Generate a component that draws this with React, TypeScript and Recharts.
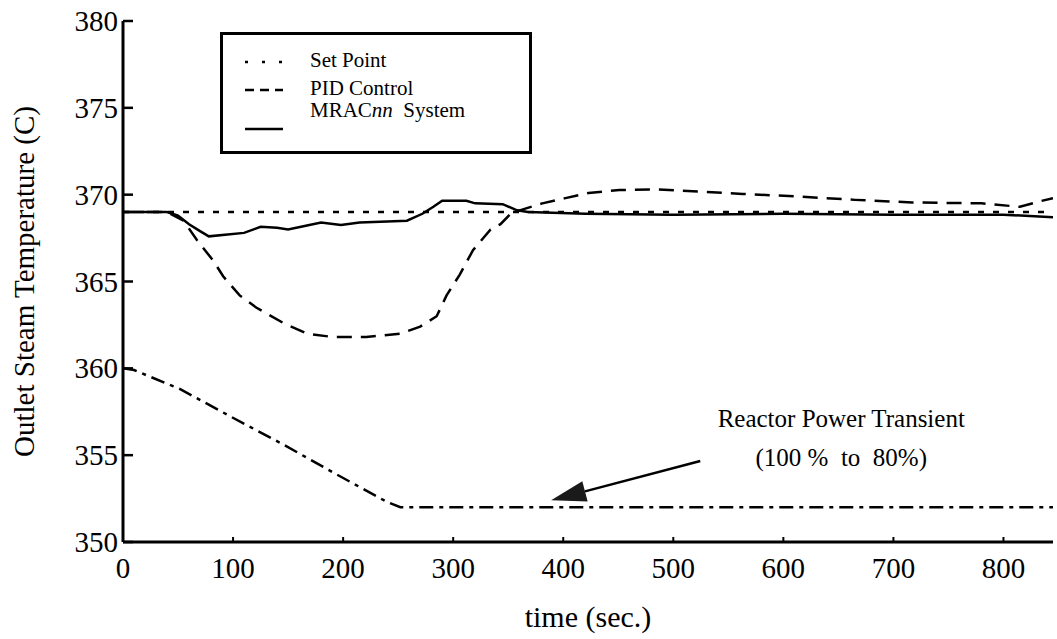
import React from 'react';
import { LineChart, Line, XAxis, YAxis, ReferenceLine, Legend } from 'recharts';

// readings taken off the original figure
const setPointTime = [0, 845];
const setPointTemp = [369, 369];

const pidTime = [
  0, 40, 55, 67, 82, 91, 106, 121, 146, 167, 191, 221, 252, 270, 285, 294, 306, 318, 334, 343,
  353, 381, 402, 423, 451, 486, 524, 563, 612, 665, 717, 780, 815, 832, 845,
];
const pidTemp = [
  369, 369, 368.5, 367.4, 366.2, 365.3, 364.2, 363.5, 362.6, 362.0, 361.8, 361.8, 362.0, 362.4, 363.0,
  364.2, 365.4, 366.8, 368.0, 368.3, 368.95, 369.5, 369.8, 370.1, 370.27, 370.3, 370.18, 370.04, 369.9,
  369.7, 369.55, 369.5, 369.3, 369.6, 369.8,
];

const mracTime = [
  0, 40, 50, 60, 70, 78, 95, 110, 125, 140, 150, 165, 180, 198, 215, 240, 258, 272, 282, 290, 312,
  320, 345, 358, 368, 420, 500, 600, 700, 800, 845,
];
const mracTemp = [
  369, 369, 368.8, 368.3, 367.9, 367.6, 367.7, 367.8, 368.15, 368.1, 368.0, 368.2, 368.4, 368.25,
  368.4, 368.45, 368.5, 368.9, 369.3, 369.65, 369.65, 369.5, 369.45, 369.1, 369.0, 368.9, 368.85,
  368.9, 368.85, 368.85, 368.7,
];

const powerTime = [0, 10, 52, 97, 146, 191, 240, 252, 845];
const powerTemp = [360, 359.9, 358.8, 357.25, 355.6, 354.0, 352.3, 352.0, 352.0];

const timeTicks = [0, 100, 200, 300, 400, 500, 600, 700, 800];
const tempTicks = [350, 355, 360, 365, 370, 375, 380];

// odd pieces are set in italics
const legendLabels = [['Set Point'], ['PID Control'], ['MRAC', 'nn', '  System']];
const annotationLines = ['Reactor Power Transient', '(100 %  to  80%)'];
const arrowTail = [524.5, 354.66];
const arrowTip = [389, 352.4];

const zip = (t: number[], v: number[]) => t.map((time, i) => ({ time, temp: v[i] }));

const INK = '#000';
const BOTTOM_GAP = 15;
const LEFT_GAP = 5;
const TICK_FONT = 29;

const BottomTick = ({ x, y, payload }: any) => (
  <g>
    <line x1={x} x2={x} y1={y - BOTTOM_GAP} y2={y - BOTTOM_GAP - 5} stroke={INK} strokeWidth={2} />
    <text x={x} y={y} dy="0.71em" textAnchor="middle" fontSize={TICK_FONT} fill={INK}>
      {payload.value}
    </text>
  </g>
);

const LeftTick = ({ x, y, payload }: any) => (
  <g>
    <line x1={x + LEFT_GAP} x2={x + LEFT_GAP + 10} y1={y} y2={y} stroke={INK} strokeWidth={2.5} />
    <text x={x} y={y} dy="0.35em" textAnchor="end" fontSize={TICK_FONT} fill={INK}>
      {payload.value}
    </text>
  </g>
);

const TopTick = ({ x, y }: any) => <line x1={x} x2={x} y1={y} y2={y + 5} stroke={INK} strokeWidth={2} />;

const RightTick = ({ x, y }: any) => <line x1={x} x2={x - 10} y1={y} y2={y} stroke={INK} strokeWidth={2.5} />;

const ArrowShape = (props: any) => {
  const { x1, y1, x2, y2 } = props;
  const len = Math.hypot(x2 - x1, y2 - y1);
  const ux = (x2 - x1) / len;
  const uy = (y2 - y1) / len;
  const bx = x2 - ux * 35;
  const by = y2 - uy * 35;
  const half = 10.5;
  return (
    <g>
      <line x1={x1} y1={y1} x2={bx} y2={by} stroke={INK} strokeWidth={2.5} />
      <polygon
        points={`${x2},${y2} ${bx - uy * half},${by + ux * half} ${bx + uy * half},${by - ux * half}`}
        fill="#1a1a1a"
      />
      <text x={x1 + 141} y={y1 - 43} dy="0.35em" textAnchor="middle" fontSize={25} fill={INK}>
        {annotationLines[0]}
      </text>
      <text x={x1 + 141} y={y1 - 4} dy="0.35em" textAnchor="middle" fontSize={25} fill={INK} style={{ whiteSpace: 'pre' }}>
        {annotationLines[1]}
      </text>
    </g>
  );
};

const sampleDash = ['3 14', '9 6', undefined];
const sampleY = [30, 58, 97];
const textY = [28, 56, 78];

const LegendBox = () => (
  <svg width={312} height={122} style={{ display: 'block' }}>
    <rect x={1.5} y={1.5} width={309} height={119} fill="#fff" stroke={INK} strokeWidth={3} />
    {legendLabels.map((parts, i) => (
      <g key={i}>
        <line x1={25} x2={63} y1={sampleY[i]} y2={sampleY[i]} stroke={INK} strokeWidth={2.5} strokeDasharray={sampleDash[i]} />
        <text x={90} y={textY[i]} dy="0.35em" fontSize={21} fill={INK} style={{ whiteSpace: 'pre' }}>
          {parts.map((p, j) => (
            <tspan key={j} fontStyle={j % 2 === 1 ? 'italic' : 'normal'}>
              {p}
            </tspan>
          ))}
        </text>
      </g>
    ))}
  </svg>
);

const axisLine = { stroke: INK, strokeWidth: 3 };

export default function App() {
  return (
    <div style={{ position: 'absolute', left: 0, top: 0, fontFamily: '"Liberation Serif", "Times New Roman", serif', background: '#fff' }}>
      <LineChart width={1057} height={639} margin={{ top: 21, right: 4, bottom: 0, left: 0 }}>
        <XAxis
          type="number"
          dataKey="time"
          domain={[0, 845]}
          ticks={timeTicks}
          interval={0}
          allowDataOverflow
          height={97}
          tickSize={0}
          tickMargin={BOTTOM_GAP}
          tickLine={false}
          axisLine={axisLine}
          tick={<BottomTick />}
          label={{ value: 'time (sec.)', position: 'insideBottom', offset: 12, fontSize: 30, fill: INK }}
        />
        <XAxis
          xAxisId="top"
          orientation="top"
          type="number"
          domain={[0, 845]}
          ticks={timeTicks}
          interval={0}
          allowDataOverflow
          height={0}
          tickSize={0}
          tickMargin={0}
          tickLine={false}
          axisLine={axisLine}
          tick={<TopTick />}
        />
        <YAxis
          type="number"
          domain={[350, 380]}
          ticks={tempTicks}
          interval={0}
          allowDataOverflow
          width={123}
          tickSize={0}
          tickMargin={LEFT_GAP}
          tickLine={false}
          axisLine={axisLine}
          tick={<LeftTick />}
          label={{
            value: 'Outlet Steam Temperature (C)',
            angle: -90,
            position: 'insideLeft',
            offset: 24,
            fontSize: 29,
            fill: INK,
            style: { textAnchor: 'middle' },
          }}
        />
        <YAxis
          yAxisId="right"
          orientation="right"
          type="number"
          domain={[350, 380]}
          ticks={tempTicks}
          interval={0}
          width={0}
          tickSize={0}
          tickMargin={0}
          tickLine={false}
          axisLine={axisLine}
          tick={<RightTick />}
        />
        <Line data={zip(setPointTime, setPointTemp)} dataKey="temp" stroke={INK} strokeWidth={2.5} strokeDasharray="6 9" dot={false} isAnimationActive={false} />
        <Line data={zip(pidTime, pidTemp)} dataKey="temp" stroke={INK} strokeWidth={2.5} strokeDasharray="15 9" dot={false} isAnimationActive={false} />
        <Line data={zip(mracTime, mracTemp)} dataKey="temp" stroke={INK} strokeWidth={2.5} dot={false} isAnimationActive={false} />
        <Line data={zip(powerTime, powerTemp)} dataKey="temp" stroke={INK} strokeWidth={2.5} strokeDasharray="14 6 4 6" dot={false} isAnimationActive={false} />
        <ReferenceLine
          segment={[
            { x: arrowTail[0], y: arrowTail[1] },
            { x: arrowTip[0], y: arrowTip[1] },
          ]}
          shape={ArrowShape}
        />
        <Legend
          layout="vertical"
          align="center"
          verticalAlign="middle"
          wrapperStyle={{ left: 220, top: 32, width: 312, height: 122 }}
          content={() => <LegendBox />}
        />
      </LineChart>
    </div>
  );
}
